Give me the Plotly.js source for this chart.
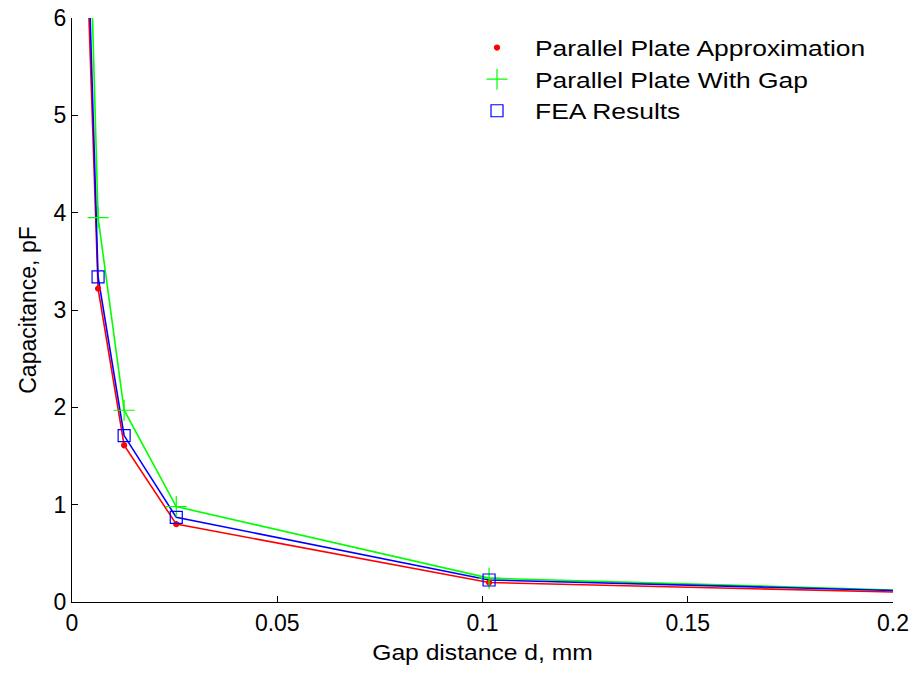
<!DOCTYPE html>
<html>
<head>
<meta charset="utf-8">
<script src="https://cdn.plot.ly/plotly-3.0.1.min.js"></script>
<style>html,body{margin:0;padding:0;background:#fff;}#chart{width:916px;height:676px;}</style>
</head>
<body>
<div id="chart"></div>
<script>
// Gap distance d, mm
const gapMM = [0.00254, 0.00635, 0.0127, 0.0254, 0.1016, 0.2032];
// Capacitance, pF
const parallelPlate = [8.0, 3.22, 1.61, 0.80, 0.20, 0.10];
const plateWithGap = [9.7, 3.95, 1.97, 0.98, 0.245, 0.12];
const feaResults = [8.6, 3.34, 1.71, 0.87, 0.226, 0.115];

const seriesNames = ["Parallel Plate Approximation", "Parallel Plate With Gap", "FEA Results"];
const xTickVals = [0, 0.05, 0.1, 0.15, 0.2];
const xTickText = ["0", "0.05", "0.1", "0.15", "0.2"];
const yTickVals = [0, 1, 2, 3, 4, 5, 6];
const yTickText = ["0", "1", "2", "3", "4", "5", "6"];

const colors = ["#ff0000", "#00ff00", "#0000ff"];
const symbols = ["circle", "cross-thin-open", "square-open"];
const sizes = [5, 15, 12];
const seriesData = [parallelPlate, plateWithGap, feaResults];

const FONT = "Liberation Sans, Arial, sans-serif";

const traces = [];
seriesData.forEach((ys, i) => {
  traces.push({
    x: gapMM, y: ys, type: "scatter", mode: "lines",
    line: {color: colors[i], width: 1.6},
    showlegend: false, hoverinfo: "skip"
  });
});
seriesData.forEach((ys, i) => {
  traces.push({
    x: gapMM, y: ys, type: "scatter", mode: "markers",
    name: seriesNames[i], legendgroup: "g" + i,
    marker: {color: colors[i], symbol: symbols[i], size: sizes[i],
             line: {color: colors[i], width: 1.2}},
    cliponaxis: true
  });
});

const layout = {
  width: 916, height: 676,
  margin: {l: 72, r: 23, t: 18, b: 74},
  paper_bgcolor: "#ffffff", plot_bgcolor: "#ffffff",
  font: {family: FONT, size: 23, color: "#000"},
  showlegend: true,
  legend: {
    x: (459 - 72) / 821, y: 0.985, xanchor: "left", yanchor: "top",
    bgcolor: "rgba(0,0,0,0)", borderwidth: 0, itemwidth: 66,
    font: {family: FONT, size: 22, color: "#000"},
    tracegroupgap: 0, traceorder: "grouped"
  },
  xaxis: {
    range: [0, 0.2], tickmode: "array", tickvals: xTickVals, ticktext: xTickText,
    ticks: "inside", ticklen: 6, tickcolor: "#000", tickwidth: 1,
    showline: true, linecolor: "#000", linewidth: 1, mirror: false,
    showgrid: false, zeroline: false,
    tickfont: {size: 23},
    title: {text: "Gap distance d, mm", font: {size: 22}, standoff: 10}
  },
  yaxis: {
    range: [0, 6], tickmode: "array", tickvals: yTickVals, ticktext: yTickText,
    ticks: "inside", ticklen: 6, tickcolor: "#000", tickwidth: 1,
    showline: true, linecolor: "#000", linewidth: 1, mirror: false,
    showgrid: false, zeroline: false,
    tickfont: {size: 23},
    title: {text: "Capacitance, pF", font: {size: 23}, standoff: 10}
  }
};

function stretch(sel, factor) {
  document.querySelectorAll(sel).forEach(t => {
    const w = t.getComputedTextLength();
    if (w > 0) {
      t.setAttribute("textLength", (w * factor).toFixed(1));
      t.setAttribute("lengthAdjust", "spacingAndGlyphs");
    }
  });
}

Plotly.newPlot("chart", traces, layout, {displayModeBar: false, staticPlot: true}).then(() => {
  stretch("#chart .legendtext", 1.2);
  stretch("#chart .xtitle", 1.12);
  document.querySelectorAll("#chart .legend [clip-path], #chart .legend").forEach(e => e.removeAttribute("clip-path"));
});
</script>
</body>
</html>
